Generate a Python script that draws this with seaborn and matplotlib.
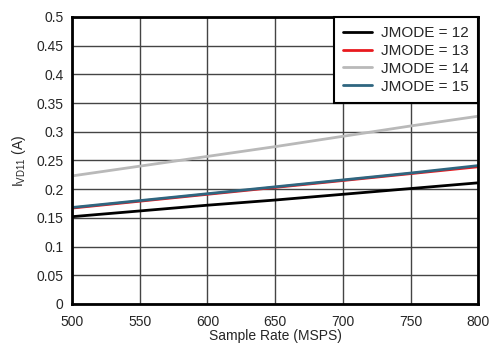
import numpy as np
import pandas as pd
import matplotlib
matplotlib.use("Agg")
import matplotlib.pyplot as plt
import seaborn as sns

# sample rate (MSPS) and supply current (A) per JMODE
rate = [500, 550, 600, 650, 700, 750, 800]
jmode12 = [0.152, 0.162, 0.172, 0.181, 0.191, 0.201, 0.211]
jmode13 = [0.167, 0.179, 0.191, 0.203, 0.215, 0.227, 0.239]
jmode14 = [0.223, 0.240, 0.257, 0.274, 0.292, 0.310, 0.327]
jmode15 = [0.168, 0.180, 0.192, 0.204, 0.216, 0.228, 0.241]
labels = ["JMODE = 12", "JMODE = 13", "JMODE = 14", "JMODE = 15"]
colors = ["#000000", "#e8191e", "#b9b9b9", "#2f6680"]

df = pd.DataFrame({"rate": rate * 4,
                   "current": jmode12 + jmode13 + jmode14 + jmode15,
                   "mode": sum([[l] * len(rate) for l in labels], [])})

sns.set_style("white")
plt.rcParams["font.family"] = ["Liberation Sans", "DejaVu Sans"]
plt.rcParams["mathtext.fontset"] = "custom"
plt.rcParams["mathtext.rm"] = "Liberation Sans"

fig = plt.figure(figsize=(4.9, 3.45), dpi=100)
ax = fig.add_axes([0.147, 0.119, 0.829, 0.832])

sns.lineplot(data=df, x="rate", y="current", hue="mode", hue_order=labels,
             palette=colors, linewidth=2, ax=ax)

ax.set_xlim(500, 800)
ax.set_ylim(0, 0.5)
ax.set_xticks(np.arange(500, 801, 50))
ax.set_yticks(np.arange(0, 0.501, 0.05))
ax.set_yticklabels(["0", "0.05", "0.1", "0.15", "0.2", "0.25", "0.3", "0.35", "0.4", "0.45", "0.5"])
ax.grid(True, color="#444444", linewidth=1)
for s in ax.spines.values():
    s.set_color("black")
    s.set_linewidth(2)
ax.tick_params(labelsize=10, length=0)
ax.tick_params(axis="y", pad=6)
ax.tick_params(axis="x", pad=8)
ax.set_xlabel("Sample Rate (MSPS)", fontsize=10, labelpad=0)
ax.set_ylabel(r"I$_{\mathrm{VD11}}$ (A)", fontsize=10, labelpad=6)

leg = ax.legend(loc="upper right", fontsize=11, frameon=True, fancybox=False,
                borderaxespad=0, handlelength=1.9, labelspacing=0.25,
                borderpad=0.6, handletextpad=0.6, framealpha=1)
leg.get_frame().set_edgecolor("black")
leg.get_frame().set_linewidth(1.5)

fig.savefig("out.png", dpi=100)
